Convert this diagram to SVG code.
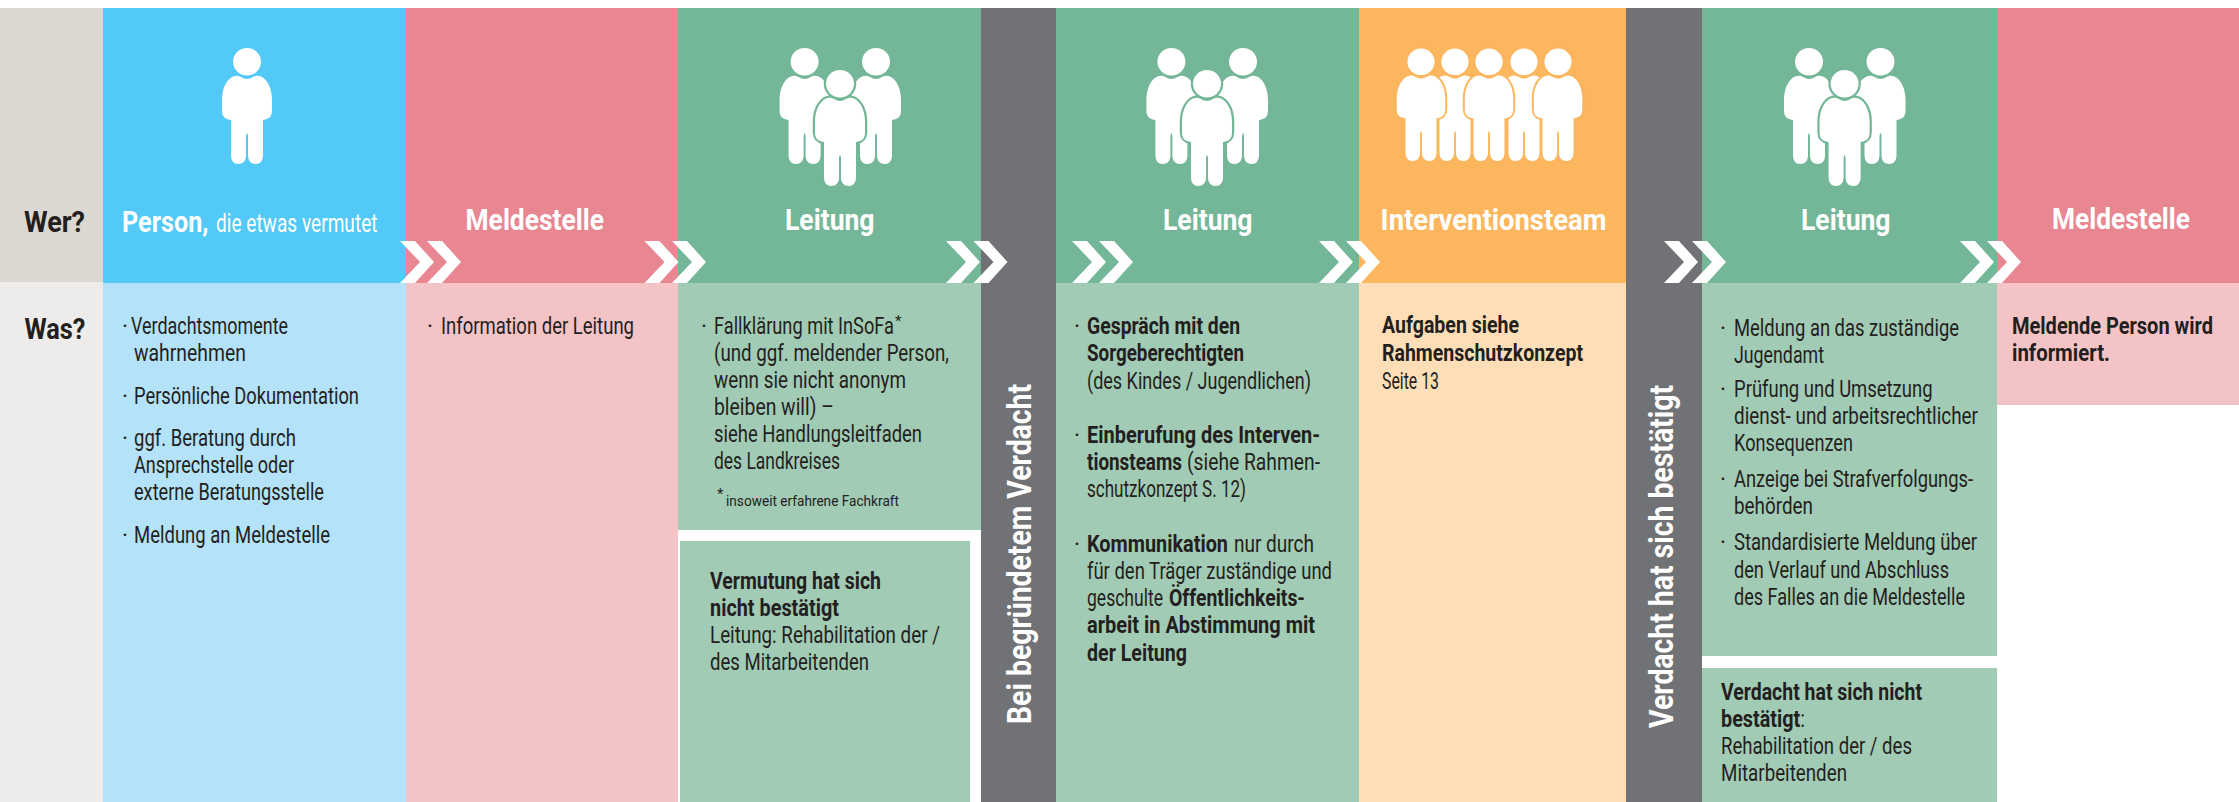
<svg xmlns="http://www.w3.org/2000/svg" xmlns:xlink="http://www.w3.org/1999/xlink" width="2239" height="802" viewBox="0 0 2239 802">
<style>
text{font-family:Roboto,"Noto Sans","Liberation Sans",sans-serif;fill:#231f20;font-size:23px}
.b{font-weight:700}
.h{font-size:30px;font-weight:700;fill:#fff}
.q{font-size:30px;font-weight:700}
.s{font-size:25px;fill:#fff}
.f{font-size:15px}
.v{font-size:33px;font-weight:700;fill:#fff}
.chev{fill:#fff}
.fg{fill:#fff}
.og{stroke:#74b798;stroke-width:4.500;paint-order:stroke}
.oo{stroke:#fcb65e;stroke-width:4;paint-order:stroke}
</style>
<defs>
<g id="person">
<ellipse cx="0" cy="13.7" rx="14" ry="13.7"/>
<path d="M-14,28.5C-10,27-8,28-6,29C-2,31.5 2,31.5 6,29C8,28 10,27 14,28.5C21,32 25,41 25,52L25,62C25,68 23,71 16,72L16,107C16,113 13,116 9,116C4,116 1,113 1,107L1,88Q0,82-1,88L-1,107C-1,113-4,116-9,116C-13,116-16,113-16,107L-16,72C-23,71-25,68-25,62L-25,52C-25,41-21,32-14,28.5Z"/>
</g>
<path id="chevron" d="M0,241H15L34,262L15,283H0L20,262Z"/>
</defs>
<rect width="2239" height="802" fill="#fff"/>

<g id="row-labels">
<rect x="0" y="8" width="103" height="274" fill="#dbd8d1"/>
<rect x="0" y="282" width="103" height="520" fill="#edecea"/>
<text class="q" x="24" y="232" textLength="61" lengthAdjust="spacingAndGlyphs">Wer?</text>
<text class="q" x="24.500" y="339" textLength="61" lengthAdjust="spacingAndGlyphs">Was?</text>
</g>

<g id="node-person">
<rect x="103" y="8" width="303" height="275" fill="#52c9f6"/>
<rect x="103" y="283" width="303" height="519" fill="#b3e2f9"/>
<use href="#person" x="247" y="48" class="fg"/>
<text class="h" x="122" y="232" textLength="86.500" lengthAdjust="spacingAndGlyphs">Person,</text>
<text class="s" x="216" y="232" textLength="161.500" lengthAdjust="spacingAndGlyphs">die etwas vermutet</text>
<text x="122" y="334">·</text>
<text x="131" y="334" textLength="157" lengthAdjust="spacingAndGlyphs">Verdachtsmomente</text>
<text x="134" y="361" textLength="112" lengthAdjust="spacingAndGlyphs">wahrnehmen</text>
<text x="122" y="404">·</text>
<text x="134" y="404" textLength="225" lengthAdjust="spacingAndGlyphs">Persönliche Dokumentation</text>
<text x="122" y="446">·</text>
<text x="134" y="446" textLength="162" lengthAdjust="spacingAndGlyphs">ggf. Beratung durch</text>
<text x="134" y="473" textLength="160" lengthAdjust="spacingAndGlyphs">Ansprechstelle oder</text>
<text x="134" y="500" textLength="190" lengthAdjust="spacingAndGlyphs">externe Beratungsstelle</text>
<text x="122" y="543">·</text>
<text x="134" y="543" textLength="196" lengthAdjust="spacingAndGlyphs">Meldung an Meldestelle</text>
</g>

<g id="node-meldestelle-1">
<rect x="406" y="8" width="272" height="275" fill="#e88691"/>
<rect x="406" y="283" width="272" height="519" fill="#f4c3c6"/>
<text class="h" x="465.500" y="230" textLength="138.500" lengthAdjust="spacingAndGlyphs">Meldestelle</text>
<text x="427" y="334">·</text>
<text x="441" y="334" textLength="193" lengthAdjust="spacingAndGlyphs">Information der Leitung</text>
</g>

<g id="node-leitung-1">
<rect x="678" y="8" width="303" height="275" fill="#74b798"/>
<rect x="678" y="283" width="303" height="247" fill="#a1cbb4"/>
<rect x="680" y="541" width="290" height="261" fill="#a1cbb4"/>
<use href="#person" x="804.600" y="48" class="fg"/>
<use href="#person" x="876" y="48" class="fg"/>
<use href="#person" x="840" y="70" class="fg og"/>
<text class="h" x="785" y="230" textLength="89.500" lengthAdjust="spacingAndGlyphs">Leitung</text>
<text x="701" y="334">·</text>
<text x="714" y="334" textLength="180" lengthAdjust="spacingAndGlyphs">Fallklärung mit InSoFa</text>
<text class="f" x="895" y="326">*</text>
<text x="714" y="361" textLength="235" lengthAdjust="spacingAndGlyphs">(und ggf. meldender Person,</text>
<text x="714" y="388" textLength="192" lengthAdjust="spacingAndGlyphs">wenn sie nicht anonym</text>
<text x="714" y="415" textLength="120" lengthAdjust="spacingAndGlyphs">bleiben will) –</text>
<text x="714" y="442" textLength="208" lengthAdjust="spacingAndGlyphs">siehe Handlungsleitfaden</text>
<text x="714" y="469" textLength="126" lengthAdjust="spacingAndGlyphs">des Landkreises</text>
<text class="f" x="717" y="499">*</text>
<text class="f" x="726" y="506" textLength="173" lengthAdjust="spacingAndGlyphs">insoweit erfahrene Fachkraft</text>
<text class="b" x="710" y="589" textLength="171" lengthAdjust="spacingAndGlyphs">Vermutung hat sich</text>
<text class="b" x="710" y="616" textLength="129" lengthAdjust="spacingAndGlyphs">nicht bestätigt</text>
<text x="710" y="643" textLength="230" lengthAdjust="spacingAndGlyphs">Leitung: Rehabilitation der /</text>
<text x="710" y="670" textLength="159" lengthAdjust="spacingAndGlyphs">des Mitarbeitenden</text>
</g>

<g id="node-begruendet">
<rect x="981" y="8" width="75" height="794" fill="#717276"/>
<text class="v" transform="translate(1031 724) rotate(-90)" textLength="340" lengthAdjust="spacingAndGlyphs">Bei begründetem Verdacht</text>
</g>

<g id="node-leitung-2">
<rect x="1056" y="8" width="303" height="275" fill="#74b798"/>
<rect x="1056" y="283" width="303" height="519" fill="#a1cbb4"/>
<use href="#person" x="1171.400" y="48" class="fg"/>
<use href="#person" x="1243" y="48" class="fg"/>
<use href="#person" x="1207" y="70" class="fg og"/>
<text class="h" x="1163" y="230" textLength="89.500" lengthAdjust="spacingAndGlyphs">Leitung</text>
<text x="1074" y="334">·</text>
<text class="b" x="1087" y="334" textLength="153" lengthAdjust="spacingAndGlyphs">Gespräch mit den</text>
<text class="b" x="1087" y="361" textLength="157" lengthAdjust="spacingAndGlyphs">Sorgeberechtigten</text>
<text x="1087" y="389" textLength="224" lengthAdjust="spacingAndGlyphs">(des Kindes / Jugendlichen)</text>
<text x="1074" y="443">·</text>
<text class="b" x="1087" y="443" textLength="233" lengthAdjust="spacingAndGlyphs">Einberufung des Interven-</text>
<text class="b" x="1087" y="470" textLength="95" lengthAdjust="spacingAndGlyphs">tionsteams</text>
<text x="1187" y="470" textLength="133" lengthAdjust="spacingAndGlyphs">(siehe Rahmen-</text>
<text x="1087" y="497" textLength="159" lengthAdjust="spacingAndGlyphs">schutzkonzept S. 12)</text>
<text x="1074" y="552">·</text>
<text class="b" x="1087" y="552" textLength="141" lengthAdjust="spacingAndGlyphs">Kommunikation</text>
<text x="1234" y="552" textLength="80" lengthAdjust="spacingAndGlyphs">nur durch</text>
<text x="1087" y="579" textLength="245" lengthAdjust="spacingAndGlyphs">für den Träger zuständige und</text>
<text x="1087" y="606" textLength="76" lengthAdjust="spacingAndGlyphs">geschulte</text>
<text class="b" x="1169" y="606" textLength="136" lengthAdjust="spacingAndGlyphs">Öffentlichkeits-</text>
<text class="b" x="1087" y="633" textLength="228" lengthAdjust="spacingAndGlyphs">arbeit in Abstimmung mit</text>
<text class="b" x="1087" y="661" textLength="100" lengthAdjust="spacingAndGlyphs">der Leitung</text>
</g>

<g id="node-interventionsteam">
<rect x="1359" y="8" width="267" height="275" fill="#fcb65e"/>
<rect x="1359" y="283" width="267" height="519" fill="#fddeb6"/>
<g class="fg">
<use href="#person" transform="translate(1455 48.500) scale(.97)"/>
<use href="#person" transform="translate(1524 48.500) scale(.97)"/>
<use href="#person" class="oo" transform="translate(1421 48.500) scale(.97)"/>
<use href="#person" class="oo" transform="translate(1489 48.500) scale(.97)"/>
<use href="#person" class="oo" transform="translate(1558 48.500) scale(.97)"/>
</g>
<text class="h" x="1380.600" y="230" textLength="226" lengthAdjust="spacingAndGlyphs">Interventionsteam</text>
<text class="b" x="1382" y="333" textLength="137" lengthAdjust="spacingAndGlyphs">Aufgaben siehe</text>
<text class="b" x="1382" y="361" textLength="201" lengthAdjust="spacingAndGlyphs">Rahmenschutzkonzept</text>
<text x="1382" y="389" textLength="57" lengthAdjust="spacingAndGlyphs">Seite 13</text>
</g>

<g id="node-bestaetigt">
<rect x="1626" y="8" width="76" height="794" fill="#717276"/>
<text class="v" transform="translate(1673 728) rotate(-90)" textLength="343" lengthAdjust="spacingAndGlyphs">Verdacht hat sich bestätigt</text>
</g>

<g id="node-leitung-3">
<rect x="1702" y="8" width="295" height="275" fill="#74b798"/>
<rect x="1702" y="283" width="295" height="373" fill="#a1cbb4"/>
<rect x="1702" y="668" width="295" height="134" fill="#a1cbb4"/>
<use href="#person" x="1809" y="48" class="fg"/>
<use href="#person" x="1880.500" y="48" class="fg"/>
<use href="#person" x="1844.600" y="70" class="fg og"/>
<text class="h" x="1801" y="230" textLength="89.500" lengthAdjust="spacingAndGlyphs">Leitung</text>
<text x="1720" y="336">·</text>
<text x="1734" y="336" textLength="225" lengthAdjust="spacingAndGlyphs">Meldung an das zuständige</text>
<text x="1734" y="363" textLength="90" lengthAdjust="spacingAndGlyphs">Jugendamt</text>
<text x="1720" y="397">·</text>
<text x="1734" y="397" textLength="198.500" lengthAdjust="spacingAndGlyphs">Prüfung und Umsetzung</text>
<text x="1734" y="424" textLength="244" lengthAdjust="spacingAndGlyphs">dienst- und arbeitsrechtlicher</text>
<text x="1734" y="451" textLength="119" lengthAdjust="spacingAndGlyphs">Konsequenzen</text>
<text x="1720" y="487">·</text>
<text x="1734" y="487" textLength="239" lengthAdjust="spacingAndGlyphs">Anzeige bei Strafverfolgungs-</text>
<text x="1734" y="514" textLength="79" lengthAdjust="spacingAndGlyphs">behörden</text>
<text x="1720" y="550">·</text>
<text x="1734" y="550" textLength="243" lengthAdjust="spacingAndGlyphs">Standardisierte Meldung über</text>
<text x="1734" y="578" textLength="215" lengthAdjust="spacingAndGlyphs">den Verlauf und Abschluss</text>
<text x="1734" y="605" textLength="231" lengthAdjust="spacingAndGlyphs">des Falles an die Meldestelle</text>
<text class="b" x="1721" y="700" textLength="201" lengthAdjust="spacingAndGlyphs">Verdacht hat sich nicht</text>
<text x="1721" y="727" textLength="84" lengthAdjust="spacingAndGlyphs"><tspan class="b">bestätigt</tspan>:</text>
<text x="1721" y="754" textLength="191" lengthAdjust="spacingAndGlyphs">Rehabilitation der / des</text>
<text x="1721" y="781" textLength="126" lengthAdjust="spacingAndGlyphs">Mitarbeitenden</text>
</g>

<g id="node-meldestelle-2">
<rect x="1997" y="8" width="242" height="275" fill="#e88691"/>
<rect x="1997" y="283" width="242" height="122" fill="#f4c3c6"/>
<text class="h" x="2052" y="229" textLength="138" lengthAdjust="spacingAndGlyphs">Meldestelle</text>
<text class="b" x="2012" y="334" textLength="201" lengthAdjust="spacingAndGlyphs">Meldende Person wird</text>
<text class="b" x="2012" y="361" textLength="98" lengthAdjust="spacingAndGlyphs">informiert.</text>
</g>

<g id="connectors" class="chev">
<use href="#chevron" x="400"/><use href="#chevron" x="427"/>
<use href="#chevron" x="644.500"/><use href="#chevron" x="672"/>
<use href="#chevron" x="946"/><use href="#chevron" x="973.500"/>
<use href="#chevron" x="1072"/><use href="#chevron" x="1099"/>
<use href="#chevron" x="1319"/><use href="#chevron" x="1346"/>
<use href="#chevron" x="1664"/><use href="#chevron" x="1692"/>
<use href="#chevron" x="1960"/><use href="#chevron" x="1987"/>
</g>
</svg>
